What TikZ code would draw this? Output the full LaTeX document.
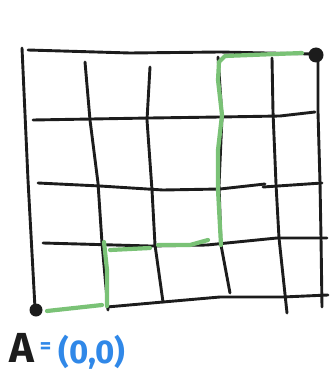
\documentclass[tikz,border=0pt]{standalone}
\usepackage{fontspec}
\setmainfont{Fira Sans}
\usetikzlibrary{positioning}
\definecolor{inkblack}{RGB}{28,28,28}
\definecolor{pathgreen}{RGB}{122,194,118}
\definecolor{textblue}{RGB}{48,136,232}

\begin{document}
\begin{tikzpicture}[
    x=1pt, y=-1pt,
    gridline/.style={draw=inkblack, line width=2.9pt, line cap=round, line join=round},
    greenline/.style={draw=pathgreen, line width=4.2pt, line cap=round, line join=round},
    dotnode/.style={circle, fill=inkblack, inner sep=0pt, minimum size=13pt},
    lettertext/.style={font=\bfseries\fontsize{42}{42}\selectfont, inner sep=0pt, text=inkblack},
    coordtext/.style={font=\bfseries\fontsize{33}{33}\selectfont, inner sep=0pt, text=textblue},
]

\useasboundingbox (0,0) rectangle (330,374);

%% ── Vertical lines ───────────────────────────────────────────────────────────
\draw[gridline] (22,48) -- (28,180) -- (35,308);
\draw[gridline] (85,62) -- (90,120) -- (98,183) -- (102,243) -- (108,310);
\draw[gridline] (150,67) -- (147,120) -- (152,190) -- (155,245) -- (163,302);
\draw[gridline] (218,57) -- (222,117) -- (219,185) -- (221,245) -- (230,293);
\draw[gridline] (272,58) -- (273,112) -- (276,184) -- (279,238) -- (287,313);
\draw[gridline] (318,58) -- (318,112) -- (320,183) -- (321,238) -- (322,307);

%% ── Horizontal lines ─────────────────────────────────────────────────────────
\draw[gridline] (28,50) -- (130,53) -- (220,52) -- (313,54);
\draw[gridline] (33,120) -- (150,118) -- (220,117) -- (280,116) -- (315,112);
\draw[gridline] (38,183) -- (100,186) -- (163,190) -- (220,189) -- (265,184);
\draw[gridline] (263,187) -- (322,183);
\draw[gridline] (43,243) -- (150,246) -- (207,245) -- (277,238) -- (327,238);
\draw[gridline] (107,307) -- (163,302) -- (220,297) -- (283,297) -- (328,295);

%% ── Green path ───────────────────────────────────────────────────────────────
\draw[greenline] (47,311) -- (102,305);
\draw[greenline] (107,306) -- (107,270) -- (104,242);
\draw[greenline] (110,250) -- (150,248);
\draw[greenline] (158,245) -- (190,245) -- (208,240);
\draw[greenline] (221,245) -- (218,190) -- (218,150) -- (222,115)
  -- (218,80) -- (219,62) -- (225,56) -- (302,53);

%% ── End points ───────────────────────────────────────────────────────────────
\node[dotnode] (start) at (36,310) {};
\node[dotnode, minimum size=15pt] (goal) at (316,55) {};

%% ── Label ────────────────────────────────────────────────────────────────────
\node[lettertext] (letter) at (22,348) {A};
\node[coordtext, font=\bfseries\fontsize{22}{22}\selectfont, right=5pt of letter] (eq) {=};
\node[coordtext, right=7pt of eq, yshift=-4pt] (origin) {(0,0)};

\end{tikzpicture}
\end{document}
